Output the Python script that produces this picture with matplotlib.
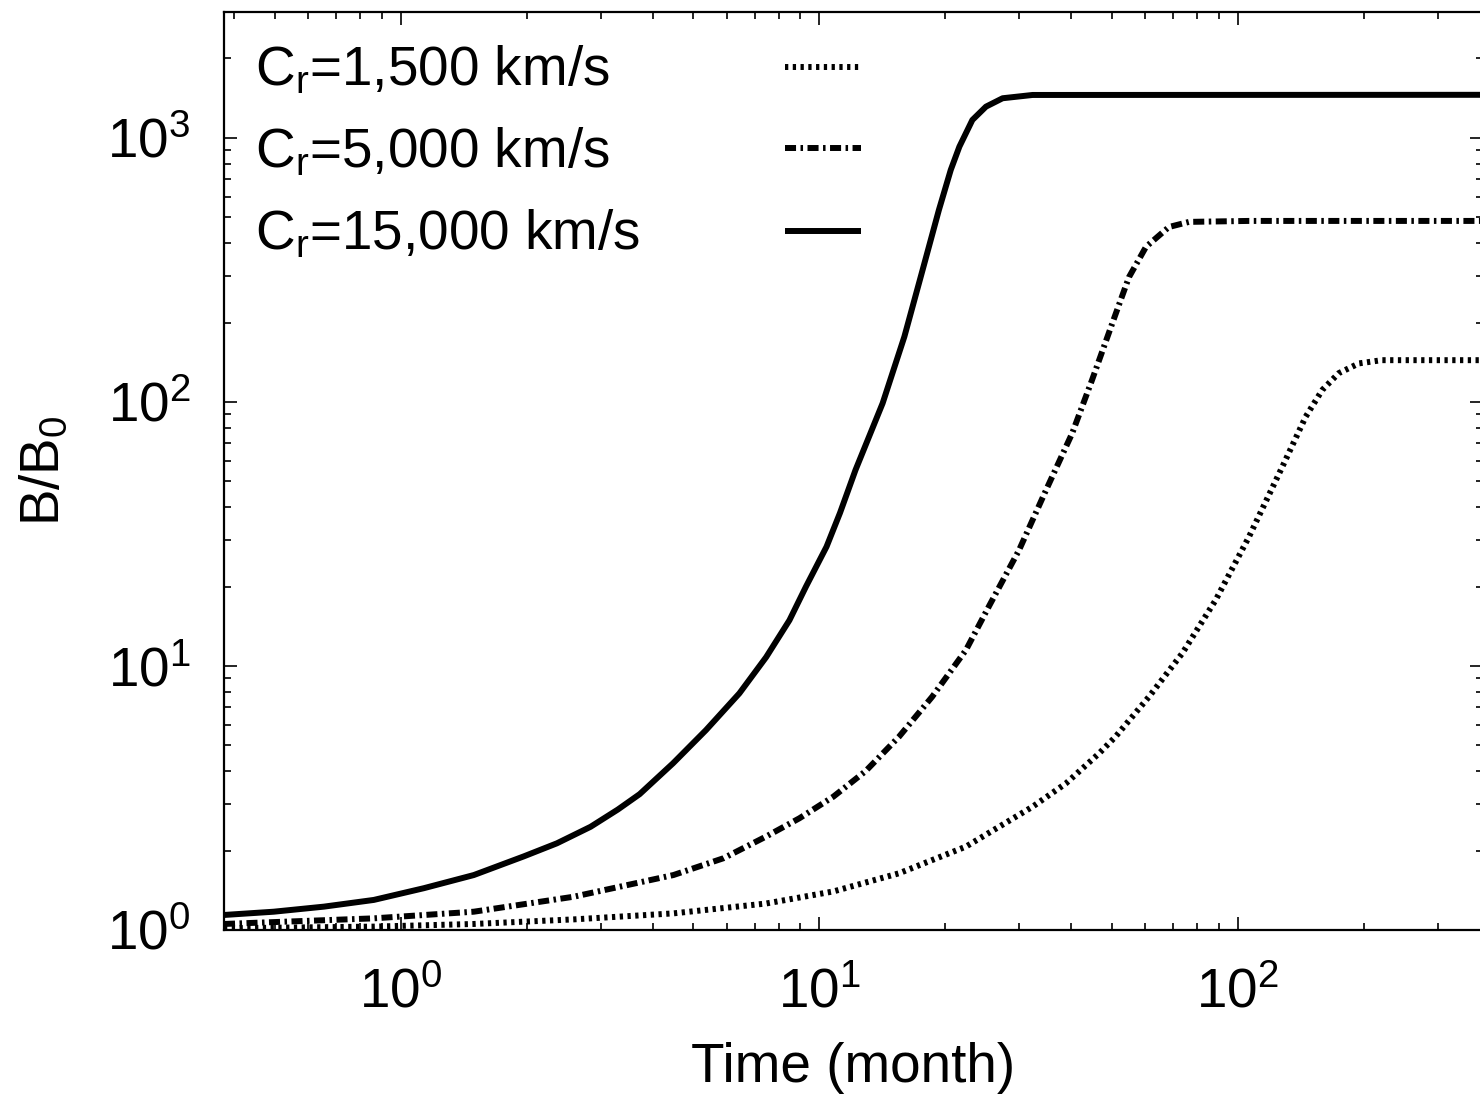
import numpy as np
import matplotlib
matplotlib.use("Agg")
import matplotlib.pyplot as plt
from matplotlib.ticker import LogLocator, NullFormatter
from matplotlib.lines import Line2D

plt.rcParams["font.family"] = ["Liberation Sans", "DejaVu Sans"]
plt.rcParams["mathtext.fontset"] = "custom"
plt.rcParams["mathtext.rm"] = "Liberation Sans"
plt.rcParams["mathtext.it"] = "Liberation Sans:italic"
plt.rcParams["mathtext.default"] = "regular"

# values (time in months, B/B0)
t_15000 = [0.378, 0.497, 0.655, 0.862, 1.135, 1.494, 1.966, 2.36, 2.84, 3.30, 3.72,
           4.47, 5.36, 6.44, 7.46, 8.48, 9.29, 10.4, 11.2, 12.2, 14.16, 15.96,
           17.64, 19.3, 20.6, 21.6, 23.2, 25.0, 27.4, 32.3, 380]
b_15000 = [1.14, 1.173, 1.226, 1.30, 1.44, 1.615, 1.90, 2.13, 2.46, 2.86, 3.27,
           4.28, 5.72, 7.88, 10.8, 14.9, 20.0, 28.3, 38.0, 55.3, 98.9, 176.8,
           316, 534, 757, 927, 1170, 1314, 1414, 1455, 1457]

t_5000 = [0.378, 0.862, 1.494, 2.59, 4.48, 5.90, 7.46, 8.96, 10.8, 12.9, 15.5, 18.6,
          22.4, 25.5, 30.0, 34.8, 40.2, 44.8, 50.0, 54.9, 60.3, 68.4, 76.4, 106, 380]
b_5000 = [1.054, 1.107, 1.173, 1.337, 1.615, 1.87, 2.26, 2.65, 3.20, 4.0, 5.40, 7.65,
          11.5, 17.0, 27.5, 46.4, 76.3, 121, 197, 297, 387, 460, 481, 485, 485]

t_1500 = [0.378, 0.862, 1.494, 2.59, 4.48, 7.46, 10.8, 15.5, 22.4, 32.3, 38.8, 46.6,
          51.0, 61.3, 73.7, 88.5, 106.3, 127.7, 145.2, 159, 174, 194.5, 220.6, 380]
b_1500 = [1.015, 1.03, 1.054, 1.097, 1.156, 1.26, 1.40, 1.64, 2.07, 2.93, 3.59, 4.67,
          5.4, 7.65, 11.2, 17.8, 30.9, 56.9, 88, 111, 128.5, 140, 144, 144]

labels = ["C$_r$=1,500 km/s", "C$_r$=5,000 km/s", "C$_r$=15,000 km/s"]

FS = 39.5
LW = 4.3
DOTTED = (0, (0.55, 0.75))
DASHDOT = (0, (1.85, 0.75, 0.42, 0.75))
styles = [DOTTED, DASHDOT, "-"]

fig = plt.figure(figsize=(14.8, 10.95), dpi=100)
ax = fig.add_axes([224 / 1480, 165 / 1095, 1259 / 1480, 918 / 1095])

series = [(t_1500, b_1500), (t_5000, b_5000), (t_15000, b_15000)]
for (t, b), ls in zip(series, styles):
    ax.plot(t, b, color="black", lw=LW, linestyle=ls, solid_capstyle="butt",
            solid_joinstyle="round")

ax.set_xscale("log")
ax.set_yscale("log")
ax.set_xlim(0.378, 385)
ax.set_ylim(1, 3000)

ax.xaxis.set_minor_locator(LogLocator(base=10, subs=np.arange(2, 10), numticks=100))
ax.yaxis.set_minor_locator(LogLocator(base=10, subs=np.arange(2, 10), numticks=100))
ax.xaxis.set_minor_formatter(NullFormatter())
ax.yaxis.set_minor_formatter(NullFormatter())

ax.tick_params(which="both", direction="in", top=True, right=True, width=1.2,
               labelsize=FS)
ax.tick_params(which="major", length=9.5)
ax.tick_params(which="minor", length=5)
ax.tick_params(axis="x", which="major", pad=27)
ax.tick_params(axis="y", which="major", pad=24)
for sp in ax.spines.values():
    sp.set_linewidth(1.6)

ax.set_xlabel("Time (month)", fontsize=FS, labelpad=16)
ax.set_ylabel("B/B$_0$", fontsize=FS)
ax.yaxis.set_label_coords(-0.121, 0.5)

# gnuplot-style key: text on the left, sample line on the right
row_text = [0.9205, 0.8312, 0.7418]
row_line = [0.9401, 0.8519, 0.7614]
for lab, ls, yt, yl in zip(labels, styles, row_text, row_line):
    ax.text(0.0245, yt, lab, transform=ax.transAxes, fontsize=FS,
            ha="left", va="baseline")
    ax.add_line(Line2D([0.4456, 0.5059], [yl, yl], transform=ax.transAxes,
                       color="black", lw=LW, linestyle=ls, solid_capstyle="butt"))

fig.savefig("out.png", dpi=100)
